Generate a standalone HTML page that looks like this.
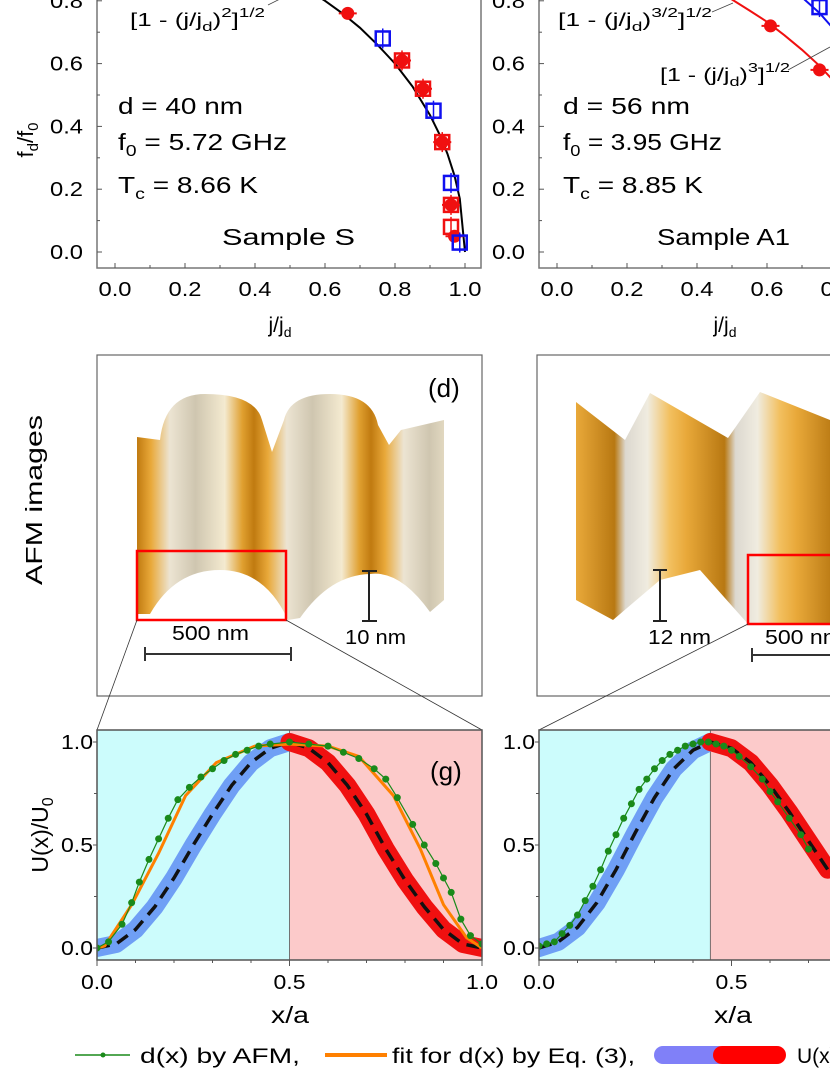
<!DOCTYPE html>
<html><head><meta charset="utf-8">
<style>
html,body{margin:0;padding:0;background:#fff;}
svg{display:block;font-family:"Liberation Sans",Arial,sans-serif;}
</style></head>
<body>
<svg id="fig" width="830" height="1075" viewBox="0 0 830 1075" xmlns="http://www.w3.org/2000/svg">
<defs>
  <linearGradient id="afmL" gradientUnits="userSpaceOnUse" x1="137" y1="0" x2="254" y2="0" spreadMethod="repeat">
    <stop offset="0" stop-color="#c07a10"/>
    <stop offset="0.12" stop-color="#e9a93a"/>
    <stop offset="0.28" stop-color="#ece4d2"/>
    <stop offset="0.5" stop-color="#cfc6b0"/>
    <stop offset="0.75" stop-color="#f4ead0"/>
    <stop offset="0.9" stop-color="#e0a030"/>
    <stop offset="1" stop-color="#c07a10"/>
  </linearGradient>
  <linearGradient id="afmR" gradientUnits="userSpaceOnUse" x1="576" y1="0" x2="686" y2="0" spreadMethod="repeat">
    <stop offset="0" stop-color="#e9a93a"/>
    <stop offset="0.35" stop-color="#b87812"/>
    <stop offset="0.45" stop-color="#dcd8cf"/>
    <stop offset="0.65" stop-color="#f0ece0"/>
    <stop offset="0.85" stop-color="#f2c060"/>
    <stop offset="1" stop-color="#e9a93a"/>
  </linearGradient>
  <clipPath id="clipTL"><rect x="97" y="-10" width="384" height="278"/></clipPath>
  <clipPath id="clipTR"><rect x="539" y="-10" width="300" height="278"/></clipPath>
  <clipPath id="clipBL"><rect x="97" y="730" width="385" height="230"/></clipPath>
  <clipPath id="clipBR"><rect x="539" y="730" width="300" height="230"/></clipPath>
</defs>

<!-- ===== Top panels ===== -->
<g id="topL"></g>
<g id="topR"></g>

<text transform="translate(33,140) rotate(-90)" text-anchor="middle" font-size="22">f<tspan font-size="15" dy="5">d</tspan><tspan dy="-5">/f</tspan><tspan font-size="15" dy="5">0</tspan></text>
<text x="280" y="332" text-anchor="middle" font-size="21">j/j<tspan font-size="14" dy="5">d</tspan></text>
<text x="725" y="332" text-anchor="middle" font-size="21">j/j<tspan font-size="14" dy="5">d</tspan></text>

<g font-size="23">
  <text x="130" y="26" font-size="18" textLength="135" lengthAdjust="spacingAndGlyphs">[1 - (j/j<tspan font-size="13" dy="5">d</tspan><tspan dy="-5">)</tspan><tspan font-size="13" dy="-9">2</tspan><tspan dy="9">]</tspan><tspan font-size="13" dy="-9">1/2</tspan></text>
  <line x1="268" y1="5" x2="282" y2="-2" stroke="#444" stroke-width="0.8"/>
  <text x="118" y="114" textLength="125" lengthAdjust="spacingAndGlyphs">d = 40 nm</text>
  <text x="118" y="150" textLength="169" lengthAdjust="spacingAndGlyphs">f<tspan font-size="16" dy="6">0</tspan><tspan dy="-6"> = 5.72 GHz</tspan></text>
  <text x="118" y="193" textLength="140" lengthAdjust="spacingAndGlyphs">T<tspan font-size="16" dy="6">c</tspan><tspan dy="-6"> = 8.66 K</tspan></text>
  <text x="222" y="245" textLength="133" lengthAdjust="spacingAndGlyphs">Sample S</text>
</g>
<g font-size="23">
  <text x="558" y="26" font-size="18" textLength="154" lengthAdjust="spacingAndGlyphs">[1 - (j/j<tspan font-size="13" dy="5">d</tspan><tspan dy="-5">)</tspan><tspan font-size="13" dy="-9">3/2</tspan><tspan dy="9">]</tspan><tspan font-size="13" dy="-9">1/2</tspan></text>
  <line x1="712" y1="12" x2="733" y2="3" stroke="#444" stroke-width="0.8"/>
  <text x="660" y="81" font-size="18" textLength="130" lengthAdjust="spacingAndGlyphs">[1 - (j/j<tspan font-size="13" dy="5">d</tspan><tspan dy="-5">)</tspan><tspan font-size="13" dy="-9">3</tspan><tspan dy="9">]</tspan><tspan font-size="13" dy="-9">1/2</tspan></text>
  <line x1="788" y1="70" x2="830" y2="47" stroke="#444" stroke-width="0.8"/>
  <text x="563" y="114" textLength="127" lengthAdjust="spacingAndGlyphs">d = 56 nm</text>
  <text x="563" y="150" textLength="159" lengthAdjust="spacingAndGlyphs">f<tspan font-size="16" dy="6">0</tspan><tspan dy="-6"> = 3.95 GHz</tspan></text>
  <text x="563" y="193" textLength="140" lengthAdjust="spacingAndGlyphs">T<tspan font-size="16" dy="6">c</tspan><tspan dy="-6"> = 8.85 K</tspan></text>
  <text x="657" y="245" textLength="133" lengthAdjust="spacingAndGlyphs">Sample A1</text>
</g>

<!-- ===== AFM panels ===== -->
<text transform="translate(42,500) rotate(-90)" text-anchor="middle" font-size="23" textLength="170" lengthAdjust="spacingAndGlyphs">AFM images</text>

<g>
  <rect x="97" y="355" width="385" height="341" fill="#fff" stroke="#666" stroke-width="1.2"/>
  <path fill="url(#afmL)"
    d="M137,437 L160,440 Q165,394 205,394 Q255,394 262,420 L272,452 L284,420 Q290,394 330,394 Q372,394 378,425 L389,445 L401,430 L444,420 L444,600 L430,612 Q400,570 370,574 Q330,575 300,618 L288,620 Q265,570 220,570 Q175,570 150,614 L137,614 Z"/>
  <rect x="419" y="356" width="62" height="59" fill="#fff"/>
  <text x="428" y="397" font-size="26">(d)</text>
  <rect x="137" y="551" width="149" height="69" fill="none" stroke="#f00" stroke-width="2.5"/>
  <line x1="145" y1="654" x2="291" y2="654" stroke="#333" stroke-width="2"/>
  <line x1="145" y1="647" x2="145" y2="661" stroke="#333" stroke-width="2"/>
  <line x1="291" y1="647" x2="291" y2="661" stroke="#333" stroke-width="2"/>
  <text x="172" y="640" font-size="20" textLength="77" lengthAdjust="spacingAndGlyphs">500 nm</text>
  <line x1="369" y1="571" x2="369" y2="621" stroke="#222" stroke-width="2"/>
  <line x1="362" y1="571" x2="377" y2="571" stroke="#222" stroke-width="2"/>
  <line x1="362" y1="621" x2="377" y2="621" stroke="#222" stroke-width="2"/>
  <text x="345" y="644" font-size="20" textLength="61" lengthAdjust="spacingAndGlyphs">10 nm</text>
</g>
<g>
  <rect x="537" y="355" width="300" height="341" fill="#fff" stroke="#666" stroke-width="1.2"/>
  <path fill="url(#afmR)"
    d="M576,402 L625,440 L650,393 L728,438 L760,392 L830,420 L830,624 L748,624 L700,570 L660,580 L613,620 L576,600 Z"/>
  <rect x="748" y="555" width="90" height="69" fill="none" stroke="#f00" stroke-width="2.5"/>
  <line x1="660" y1="570" x2="660" y2="621" stroke="#222" stroke-width="2"/>
  <line x1="653" y1="570" x2="667" y2="570" stroke="#222" stroke-width="2"/>
  <line x1="653" y1="621" x2="667" y2="621" stroke="#222" stroke-width="2"/>
  <text x="648" y="644" font-size="20" textLength="63" lengthAdjust="spacingAndGlyphs">12 nm</text>
  <line x1="752" y1="655" x2="840" y2="655" stroke="#333" stroke-width="2"/>
  <line x1="752" y1="648" x2="752" y2="662" stroke="#333" stroke-width="2"/>
  <text x="765" y="644" font-size="20" textLength="77" lengthAdjust="spacingAndGlyphs">500 nm</text>
</g>
<g stroke="#333" stroke-width="0.8">
  <line x1="137" y1="620" x2="97" y2="730"/>
  <line x1="286" y1="620" x2="482" y2="730"/>
  <line x1="748" y1="624" x2="539" y2="730"/>
</g>

<!-- ===== Bottom panels ===== -->
<g id="botL"></g>
<g id="botR"></g>
<text transform="translate(48,835) rotate(-90)" text-anchor="middle" font-size="23">U(x)/U<tspan font-size="16" dy="5">0</tspan></text>
<text x="290" y="1023" text-anchor="middle" font-size="23" textLength="38" lengthAdjust="spacingAndGlyphs">x/a</text>
<text x="733" y="1023" text-anchor="middle" font-size="23" textLength="38" lengthAdjust="spacingAndGlyphs">x/a</text>
<text x="430" y="780" font-size="26">(g)</text>

<!-- legend -->
<g font-size="21">
  <g>
    <line x1="75" y1="1055" x2="130" y2="1055" stroke="#1a8a1a" stroke-width="1.5"/>
    <circle cx="103" cy="1055" r="2.5" fill="#1a8a1a"/>
    <text x="140" y="1063" textLength="160" lengthAdjust="spacingAndGlyphs">d(x) by AFM,</text>
  </g>
  <g>
    <line x1="325" y1="1055" x2="387" y2="1055" stroke="#ff8000" stroke-width="4"/>
    <text x="392" y="1063" textLength="243" lengthAdjust="spacingAndGlyphs">fit for d(x) by Eq. (3),</text>
  </g>
  <g>
    <line x1="663" y1="1055" x2="718" y2="1055" stroke="#8080f8" stroke-width="18" stroke-linecap="round"/>
    <line x1="722" y1="1055" x2="777" y2="1055" stroke="#f00" stroke-width="18" stroke-linecap="round"/>
    <text x="797" y="1063">U(x)</text>
  </g>
</g>
</svg>
<script>
// ---------- data ----------
const topTicks = [0.0,0.2,0.4,0.6,0.8,1.0];
const topTickLabels = ["0.0","0.2","0.4","0.6","0.8","1.0"];
// Sample S
const sFitJ = [0.55,0.6,0.65,0.7,0.75,0.8,0.85,0.9,0.93,0.95,0.97,0.985,1.0];
const sFitF = [0.835,0.8,0.76,0.714,0.66,0.6,0.527,0.436,0.368,0.312,0.243,0.17,0.0];
const sRedDotJ = [0.665,0.82,0.88,0.935,0.96,0.97];
const sRedDotF = [0.76,0.61,0.52,0.35,0.15,0.05];
const sRedSqJ = [0.82,0.88,0.935,0.96,0.96];
const sRedSqF = [0.61,0.52,0.35,0.15,0.08];
const sBlueSqJ = [0.765,0.91,0.96,0.985];
const sBlueSqF = [0.68,0.45,0.22,0.03];
// Sample A1
const aRedFitJ = [0.45,0.5,0.55,0.6,0.65,0.7,0.75,0.8];
const aRedFitF = [0.835,0.804,0.769,0.733,0.69,0.644,0.593,0.533];
const aBlueFitJ = [0.7,0.75,0.8];
const aBlueFitF = [0.811,0.761,0.698];
const aRedDotJ = [0.61,0.75];
const aRedDotF = [0.72,0.58];
const aBlueSqJ = [0.75];
const aBlueSqF = [0.78];

const botTicks = [0.0,0.5,1.0];
const botTickLabels = ["0.0","0.5","1.0"];
// Sample S profile
const gAfmX = [0,0.03,0.065,0.09,0.11,0.135,0.16,0.185,0.21,0.24,0.27,0.3,0.33,0.36,0.39,0.42,0.45,0.5,0.55,0.6,0.64,0.68,0.72,0.75,0.78,0.82,0.85,0.88,0.9,0.92,0.945,0.97,1.0];
const gAfmY = [0.0,0.03,0.115,0.22,0.32,0.43,0.53,0.63,0.72,0.78,0.83,0.87,0.91,0.94,0.96,0.98,0.99,1.0,0.99,0.98,0.95,0.92,0.87,0.82,0.73,0.6,0.5,0.41,0.34,0.27,0.14,0.06,0.02];
const gFitX = [0,0.02,0.09,0.16,0.23,0.31,0.41,0.5,0.6,0.68,0.77,0.84,0.9,0.96,1.0];
const gFitY = [0,0.01,0.21,0.46,0.74,0.9,0.98,0.99,0.98,0.93,0.74,0.48,0.21,0.05,0];
const gUX = [0,0.05,0.1,0.15,0.2,0.25,0.3,0.35,0.4,0.45,0.5,0.55,0.6,0.65,0.7,0.75,0.8,0.85,0.9,0.95,1.0];
const gUY = [0,0.02,0.09,0.2,0.34,0.5,0.65,0.79,0.9,0.97,1.0,0.97,0.9,0.79,0.65,0.48,0.33,0.2,0.09,0.02,0];
const gSplit = 0.5;
// Sample A1 profile
const hAfmX = [0,0.02,0.04,0.06,0.08,0.1,0.12,0.14,0.16,0.18,0.2,0.22,0.24,0.26,0.28,0.3,0.32,0.34,0.36,0.38,0.4,0.42,0.44,0.46,0.48,0.5,0.52,0.55,0.58,0.6,0.62,0.65,0.68,0.7];
const hAfmY = [0.01,0.02,0.03,0.07,0.11,0.16,0.23,0.3,0.38,0.47,0.55,0.63,0.7,0.77,0.82,0.87,0.91,0.94,0.96,0.98,0.99,1.0,1.0,0.99,0.98,0.96,0.93,0.88,0.82,0.76,0.71,0.63,0.55,0.48];
const hUX = [0,0.05,0.1,0.15,0.2,0.25,0.3,0.35,0.4,0.445,0.5,0.55,0.6,0.65,0.7,0.75];
const hUY = [0,0.03,0.1,0.22,0.38,0.56,0.73,0.87,0.96,1.0,0.97,0.9,0.79,0.66,0.52,0.38];
const hSplit = 0.445;

// ---------- helpers ----------
const NS = "http://www.w3.org/2000/svg";
function mk(tag, attrs, parent){ const e=document.createElementNS(NS,tag); for(const k in attrs) e.setAttribute(k,attrs[k]); parent.appendChild(e); return e; }
function pathFrom(xs,ys,sx,sy){ return xs.map((x,i)=>(i?"L":"M")+sx(x).toFixed(1)+","+sy(ys[i]).toFixed(1)).join(""); }

// ---------- top charts ----------
function topChart(gid, x0, frameR, clipId, draw){
  const g=document.getElementById(gid);
  const sx=v=>x0+18+v*350, sy=v=>252-v*314;
  const frame=mk("rect",{x:x0,y:-5,width:frameR-x0,height:273,fill:"none",stroke:"#777","stroke-width":1.5},g);
  
  
  topTicks.forEach((t,i)=>{
    mk("line",{x1:sx(t),y1:268,x2:sx(t),y2:263,stroke:"#555"},g);
    if(i<5){ mk("line",{x1:sx(t+0.1),y1:268,x2:sx(t+0.1),y2:265,stroke:"#555"},g); }
    const tl=mk("text",{x:sx(t),y:296,"text-anchor":"middle","font-size":20,textLength:33,lengthAdjust:"spacingAndGlyphs"},g);
    tl.textContent=topTickLabels[i];
    
    
    if(t<=0.8){
      mk("line",{x1:x0,y1:sy(t),x2:x0+5,y2:sy(t),stroke:"#555"},g);
      mk("line",{x1:x0,y1:sy(t+0.1),x2:x0+3,y2:sy(t+0.1),stroke:"#555"},g);
      const yl=mk("text",{x:x0-47,y:sy(t)+7,"font-size":20,textLength:33,lengthAdjust:"spacingAndGlyphs"},g);
      yl.textContent=topTickLabels[i];
      
      
    }
  });
  const cg=mk("g",{"clip-path":"url(#"+clipId+")"},g);
  draw(cg,sx,sy);
}
function dots(g,xs,ys,sx,sy,name){ xs.forEach((x,i)=>{ const c=mk("circle",{cx:sx(x),cy:sy(ys[i]),r:6.5,fill:"#f01010"},g);
   
  mk("line",{x1:sx(x)-9,y1:sy(ys[i]),x2:sx(x)+9,y2:sy(ys[i]),stroke:"#f01010","stroke-width":2},g);});}
function squares(g,xs,ys,sx,sy,col,name){ xs.forEach((x,i)=>{ const r=mk("rect",{x:sx(x)-7,y:sy(ys[i])-7,width:14,height:14,fill:"none",stroke:col,"stroke-width":2.5},g);
   
  mk("line",{x1:sx(x),y1:sy(ys[i])-10,x2:sx(x),y2:sy(ys[i])+10,stroke:col,"stroke-width":1.5},g);});}

topChart("topL",97,481,"clipTL",(g,sx,sy)=>{
  const p=mk("path",{d:pathFrom(sFitJ,sFitF,sx,sy),fill:"none",stroke:"#000","stroke-width":2},g);
   
  squares(g,sRedSqJ,sRedSqF,sx,sy,"#f01010","red-square-point");
  dots(g,sRedDotJ,sRedDotF,sx,sy,"red-dot-point");
  squares(g,sBlueSqJ,sBlueSqF,sx,sy,"#1010f0","blue-square-point");
});
topChart("topR",539,1000,"clipTR",(g,sx,sy)=>{
  const p=mk("path",{d:pathFrom(aRedFitJ,aRedFitF,sx,sy),fill:"none",stroke:"#f01010","stroke-width":2},g);
   
  const b=mk("path",{d:pathFrom(aBlueFitJ,aBlueFitF,sx,sy),fill:"none",stroke:"#1010f0","stroke-width":2},g);
   
  dots(g,aRedDotJ,aRedDotF,sx,sy,"red-dot-point");
  squares(g,aBlueSqJ,aBlueSqF,sx,sy,"#1010f0","blue-square-point");
});

// ---------- bottom charts ----------
function botChart(gid,x0,frameR,clipId,split,afmX,afmY,fitX,fitY,uX,uY){
  const g=document.getElementById(gid);
  const sx=v=>x0+v*385, sy=v=>948-v*206;
  const cg=mk("g",{"clip-path":"url(#"+clipId+")"},g);
  mk("rect",{x:x0,y:730,width:sx(split)-x0,height:230,fill:"#ccfcfc"},cg);
  mk("rect",{x:sx(split),y:730,width:600,height:230,fill:"#fccaca"},cg);
  mk("line",{x1:sx(split),y1:730,x2:sx(split),y2:960,stroke:"#555","stroke-width":0.8},cg);
  const lx=[],ly=[],rx=[],ry=[];
  uX.forEach((x,i)=>{ if(x<=split+1e-9){lx.push(x);ly.push(uY[i]);} if(x>=split-1e-9){rx.push(x);ry.push(uY[i]);} });
  const bl=mk("path",{d:pathFrom(lx,ly,sx,sy),fill:"none",stroke:"#6f9ff5","stroke-width":18,"stroke-linecap":"round","stroke-linejoin":"round"},cg);
   
  const br=mk("path",{d:pathFrom(rx,ry,sx,sy),fill:"none",stroke:"#f01010","stroke-width":18,"stroke-linecap":"round","stroke-linejoin":"round"},cg);
   
  const dl=mk("path",{d:pathFrom(uX,uY,sx,sy),fill:"none",stroke:"#111","stroke-width":3.5,"stroke-dasharray":"13,8"},cg);
   
  if(fitX){ const o=mk("path",{d:pathFrom(fitX,fitY,sx,sy),fill:"none",stroke:"#ff8000","stroke-width":3},cg);
      }
  const gl=mk("path",{d:pathFrom(afmX,afmY,sx,sy),fill:"none",stroke:"#1a8a1a","stroke-width":1.2},cg);
   
  afmX.forEach((x,i)=>{ const c=mk("circle",{cx:sx(x),cy:sy(afmY[i]),r:3.5,fill:"#1a8a1a"},cg);
      });
  mk("rect",{x:x0,y:730,width:frameR-x0,height:230,fill:"none",stroke:"#555","stroke-width":1.5},g);
  botTicks.forEach((t,i)=>{
    mk("line",{x1:sx(t),y1:960,x2:sx(t),y2:966,stroke:"#555"},g);
    if(t<1){ [0.1,0.2,0.3,0.4].forEach(d=>mk("line",{x1:sx(t+d),y1:960,x2:sx(t+d),y2:963,stroke:"#555"},g)); }
    const tl=mk("text",{x:sx(t),y:989,"text-anchor":"middle","font-size":20,textLength:32,lengthAdjust:"spacingAndGlyphs"},g);
    tl.textContent=botTickLabels[i];
     
    mk("line",{x1:x0,y1:sy(t),x2:x0-4,y2:sy(t),stroke:"#555"},g);
    if(t<1) mk("line",{x1:x0,y1:sy(t+0.25),x2:x0-3,y2:sy(t+0.25),stroke:"#555"},g);
    const yl=mk("text",{x:x0-36,y:sy(t)+7,"font-size":20,textLength:32,lengthAdjust:"spacingAndGlyphs"},g);
    yl.textContent=botTickLabels[i];
     
  });
}
botChart("botL",97,482,"clipBL",gSplit,gAfmX,gAfmY,gFitX,gFitY,gUX,gUY);
botChart("botR",539,1000,"clipBR",hSplit,hAfmX,hAfmY,null,null,hUX,hUY);
</script>
</body></html>
